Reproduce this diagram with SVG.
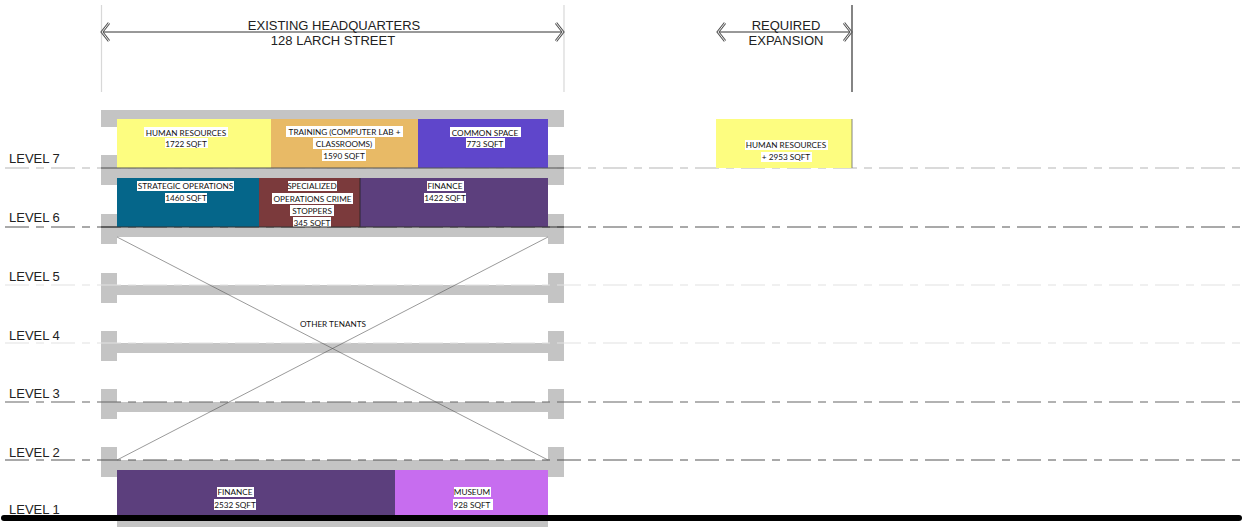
<svg xmlns="http://www.w3.org/2000/svg" width="1244" height="527" viewBox="0 0 1244 527">
<style>
.bg{fill:#ffffff}
.slab{fill:#c4c4c4}
.lvl{font-family:"Liberation Sans",Arial,sans-serif;font-size:13px;fill:#222}
.dim{font-family:"Liberation Sans",Arial,sans-serif;font-size:13px;fill:#222;text-anchor:middle}
.lab{font-family:Lato,"Noto Sans",sans-serif;font-size:8.2px;fill:#111;text-anchor:middle}
.lbg{fill:#ffffff}
.dash{fill:none;stroke-width:1.2;stroke-dasharray:24 7 8 7}
.ext{stroke:#d8d8d8;stroke-width:1.2}
.chev1{fill:none;stroke:#555;stroke-width:2.8;stroke-linejoin:miter}
.chev2{fill:none;stroke:#fff;stroke-width:0.9}
</style>
<rect class="bg" x="0" y="0" width="1244" height="527"/>

<!-- dimension annotations -->
<g id="dimensions">
  <line class="ext" x1="101.5" y1="5" x2="101.5" y2="92"/>
  <line class="ext" x1="564" y1="5" x2="564" y2="92"/>
  <line x1="852" y1="5" x2="852" y2="92" stroke="#333" stroke-width="1.2"/>
  <line x1="102" y1="32" x2="563" y2="32" stroke="#333" stroke-width="1"/>
  <line x1="718" y1="32" x2="851" y2="32" stroke="#333" stroke-width="1"/>
  <polyline class="chev1" points="109,23 102,32 109,41"/>
  <polyline class="chev2" points="109,23 102,32 109,41"/>
  <polyline class="chev1" points="556,23 563,32 556,41"/>
  <polyline class="chev2" points="556,23 563,32 556,41"/>
  <polyline class="chev1" points="725,23 718,32 725,41"/>
  <polyline class="chev2" points="725,23 718,32 725,41"/>
  <polyline class="chev1" points="844,23 851,32 844,41"/>
  <polyline class="chev2" points="844,23 851,32 844,41"/>
  <text class="dim" x="334" y="30">EXISTING HEADQUARTERS</text>
  <text class="dim" x="333" y="45">128 LARCH STREET</text>
  <text class="dim" x="786" y="30">REQUIRED</text>
  <text class="dim" x="786" y="45">EXPANSION</text>
</g>

<!-- building structure -->
<g id="building">
  <rect class="slab" x="101" y="110" width="463" height="9"/>
  <rect class="slab" x="101" y="110" width="16" height="17"/>
  <rect class="slab" x="548" y="110" width="16" height="17"/>
  <!-- L7 -->
  <rect class="slab" x="117" y="168" width="431" height="10"/>
  <rect class="slab" x="101" y="155" width="16" height="30"/>
  <rect class="slab" x="548" y="155" width="16" height="30"/>
  <!-- L6 -->
  <rect class="slab" x="117" y="227" width="431" height="10"/>
  <rect class="slab" x="101" y="214" width="16" height="30"/>
  <rect class="slab" x="548" y="214" width="16" height="30"/>
  <!-- L5 -->
  <rect class="slab" x="117" y="285" width="431" height="10"/>
  <rect class="slab" x="101" y="273" width="16" height="30"/>
  <rect class="slab" x="548" y="273" width="16" height="30"/>
  <!-- L4 -->
  <rect class="slab" x="117" y="343" width="431" height="10"/>
  <rect class="slab" x="101" y="331" width="16" height="30"/>
  <rect class="slab" x="548" y="331" width="16" height="30"/>
  <!-- L3 -->
  <rect class="slab" x="117" y="402" width="431" height="10"/>
  <rect class="slab" x="101" y="389" width="16" height="30"/>
  <rect class="slab" x="548" y="389" width="16" height="30"/>
  <!-- L2 -->
  <rect class="slab" x="117" y="460" width="431" height="10"/>
  <rect class="slab" x="101" y="447" width="16" height="30"/>
  <rect class="slab" x="548" y="447" width="16" height="30"/>
  <!-- L1 below grade -->
  <rect class="slab" x="117" y="518" width="431" height="9"/>
</g>

<!-- level lines -->
<g id="levels">
  <line class="dash" x1="5" y1="168" x2="1240" y2="168" stroke="#b5b5b5"/>
  <line class="dash" x1="5" y1="227" x2="1240" y2="227" stroke="#555"/>
  <line class="dash" x1="5" y1="285" x2="1240" y2="285" stroke="#e2e2e2"/>
  <line class="dash" x1="5" y1="343" x2="1240" y2="343" stroke="#e2e2e2"/>
  <line class="dash" x1="5" y1="402" x2="1240" y2="402" stroke="#666"/>
  <line class="dash" x1="5" y1="460" x2="1240" y2="460" stroke="#555"/>
  <text class="lvl" x="9" y="163">LEVEL 7</text>
  <text class="lvl" x="9" y="222">LEVEL 6</text>
  <text class="lvl" x="9" y="281">LEVEL 5</text>
  <text class="lvl" x="9" y="340">LEVEL 4</text>
  <text class="lvl" x="9" y="398">LEVEL 3</text>
  <text class="lvl" x="9" y="457">LEVEL 2</text>
  <text class="lvl" x="9" y="514">LEVEL 1</text>
</g>

<!-- level 7 spaces -->
<g id="hr7">
  <rect x="117" y="119" width="154" height="49" fill="#fdfd80"/>
  <rect class="lbg" x="144" y="127" width="84" height="10"/>
  <rect class="lbg" x="165" y="138" width="43" height="10"/>
  <text class="lab" x="186" y="135.5">HUMAN RESOURCES</text>
  <text class="lab" x="186" y="146.5">1722 SQFT</text>
</g>
<g id="training7">
  <rect x="271" y="119" width="147" height="49" fill="#e8ba66"/>
  <rect class="lbg" x="286" y="126" width="117" height="11"/>
  <rect class="lbg" x="313" y="138" width="62" height="11"/>
  <rect class="lbg" x="322" y="150" width="44" height="11"/>
  <text class="lab" x="344.5" y="134.5">TRAINING (COMPUTER LAB +</text>
  <text class="lab" x="344" y="146.5">CLASSROOMS)</text>
  <text class="lab" x="344" y="158.5">1590 SQFT</text>
</g>
<g id="common7">
  <rect x="418" y="119" width="130" height="49" fill="#5f46cb"/>
  <rect class="lbg" x="450" y="127" width="71" height="10"/>
  <rect class="lbg" x="466" y="138" width="39" height="10"/>
  <text class="lab" x="485" y="135.5">COMMON SPACE</text>
  <text class="lab" x="485" y="146.5">773 SQFT</text>
</g>

<!-- level 6 spaces -->
<g id="strategic6">
  <rect x="117" y="178" width="142" height="49" fill="#05668a"/>
  <rect class="lbg" x="137" y="181" width="97" height="10"/>
  <rect class="lbg" x="165" y="193" width="42" height="10"/>
  <text class="lab" x="185.5" y="189">STRATEGIC OPERATIONS</text>
  <text class="lab" x="186" y="201">1460 SQFT</text>
</g>
<g id="specialized6">
  <rect x="259" y="178" width="101" height="49" fill="#7b3a3c"/>
  <rect class="lbg" x="288" y="181" width="49" height="10"/>
  <rect class="lbg" x="272" y="193" width="81" height="11"/>
  <rect class="lbg" x="290" y="205" width="44" height="11"/>
  <rect class="lbg" x="293" y="217" width="38" height="10"/>
  <text class="lab" x="312" y="189">SPECIALIZED</text>
  <text class="lab" x="312.5" y="201.5">OPERATIONS CRIME</text>
  <text class="lab" x="312" y="213.5">STOPPERS</text>
  <text class="lab" x="312" y="225.5">345 SQFT</text>
</g>
<g id="finance6">
  <rect x="360" y="178" width="188" height="49" fill="#5c3f7d"/>
  <line x1="360" y1="178" x2="360" y2="227" stroke="#222" stroke-width="0.8"/>
  <rect class="lbg" x="427" y="181" width="37" height="10"/>
  <rect class="lbg" x="424" y="193" width="42" height="10"/>
  <text class="lab" x="445" y="189">FINANCE</text>
  <text class="lab" x="445" y="201">1422 SQFT</text>
</g>

<!-- level 1 spaces -->
<g id="finance1">
  <rect x="117" y="470" width="278" height="48" fill="#5c3f7d"/>
  <rect class="lbg" x="217" y="487" width="37" height="10"/>
  <rect class="lbg" x="214" y="499" width="42" height="11"/>
  <text class="lab" x="235" y="495">FINANCE</text>
  <text class="lab" x="235" y="507.5">2532 SQFT</text>
</g>
<g id="museum1">
  <rect x="395" y="470" width="153" height="48" fill="#c76def"/>
  <rect class="lbg" x="454" y="487" width="37" height="10"/>
  <rect class="lbg" x="453" y="499" width="40" height="11"/>
  <text class="lab" x="472" y="495">MUSEUM</text>
  <text class="lab" x="472" y="507.5">928 SQFT</text>
</g>

<!-- expansion -->
<g id="hr_expansion">
  <rect x="716" y="119" width="136" height="49" fill="#fdfd80"/>
  <line x1="852" y1="119" x2="852" y2="168" stroke="#666" stroke-width="0.8"/>
  <rect class="lbg" x="745" y="140" width="83" height="10"/>
  <rect class="lbg" x="761" y="152" width="51" height="10"/>
  <text class="lab" x="786" y="148">HUMAN RESOURCES</text>
  <text class="lab" x="786" y="160">+ 2953 SQFT</text>
</g>

<!-- other tenants -->
<g id="connectors">
  <line x1="117" y1="237" x2="548" y2="460" stroke="#555" stroke-width="0.6"/>
  <line x1="548" y1="237" x2="117" y2="460" stroke="#555" stroke-width="0.6"/>
  <line x1="101" y1="168" x2="564" y2="168" stroke="#555" stroke-width="1"/>
  <line x1="101" y1="227" x2="564" y2="227" stroke="#333" stroke-width="1"/>
</g>
<g id="other_tenants">
  <text class="lab" x="333" y="327">OTHER TENANTS</text>
</g>

<!-- ground -->
<g id="ground">
  <line x1="4" y1="518" x2="1239" y2="518" stroke="#000" stroke-width="6" stroke-linecap="round"/>
</g>
</svg>
